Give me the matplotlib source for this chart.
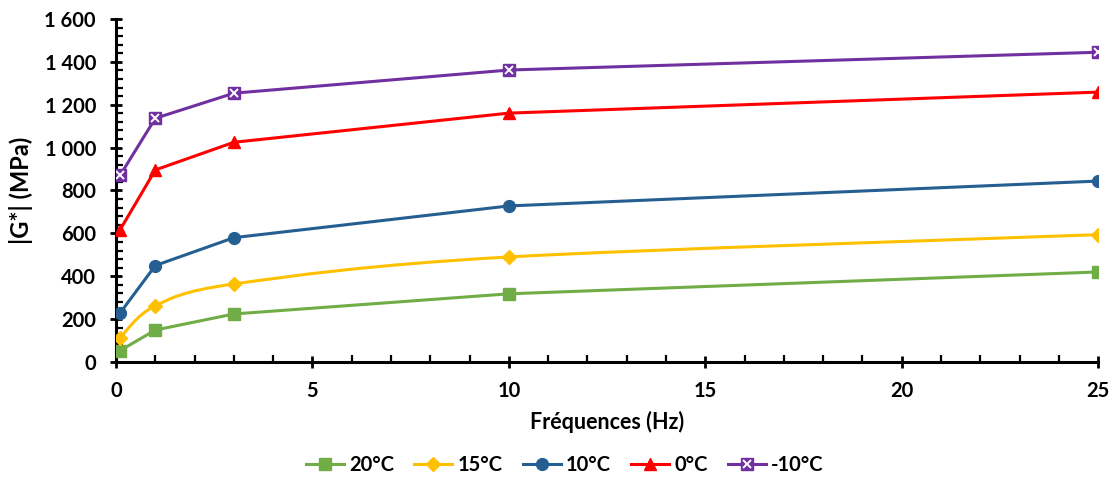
import numpy as np
import matplotlib.pyplot as plt
from matplotlib.path import Path
from matplotlib.patches import PathPatch
from matplotlib.lines import Line2D
from matplotlib.ticker import MultipleLocator, FuncFormatter

plt.rcParams['font.family'] = ['Lato', 'DejaVu Sans']

freqs = [0.1, 1, 3, 10, 25]
g_20 = [53, 149, 224, 318, 420]
g_15 = [113, 262, 364, 490, 594]
g_10 = [228, 450, 580, 728, 844]
g_0 = [616, 896, 1025, 1161, 1259]
g_m10 = [870, 1137, 1254, 1362, 1445]

labels = ["20°C", "15°C", "10°C", "0°C", "-10°C"]
series = [g_20, g_15, g_10, g_0, g_m10]
colors = ["#70AD47", "#FFC000", "#255E91", "#FF0000", "#7030A0"]
markers = ["s", "D", "o", "^", "s"]
msizes = [8.5, 7, 8.5, 8.5, 8.5]
smoothed = [False, True, False, False, False]


def smooth_path(x, y):
    # smoothed line: cubic Bezier through each point
    pts = np.column_stack([x, y]).astype(float)
    verts = [pts[0]]
    codes = [Path.MOVETO]
    n = len(pts)
    for i in range(n - 1):
        p0 = pts[i - 1] if i > 0 else pts[i]
        p1 = pts[i]
        p2 = pts[i + 1]
        p3 = pts[i + 2] if i + 2 < n else pts[i + 1]
        seg = np.hypot(*(p2 - p1))
        t1 = (p2 - p0) / 6
        t2 = (p3 - p1) / 6
        # keep handles shorter than a third of the segment
        t1 *= min(1, seg / 3 / max(np.hypot(*t1), 1e-9))
        t2 *= min(1, seg / 3 / max(np.hypot(*t2), 1e-9))
        verts += [p1 + t1, p2 - t2, p2]
        codes += [Path.CURVE4] * 3
    return Path(verts, codes)


fig = plt.figure(figsize=(11.16, 4.79), dpi=100)
ax = fig.add_axes([0.104, 0.2443, 0.880, 0.716])

handles = []
for vals, lab, col, mk, ms, sm in zip(series, labels, colors, markers, msizes, smoothed):
    if sm:
        ax.add_patch(PathPatch(smooth_path(freqs, vals), fill=False, edgecolor=col,
                               lw=2.2, zorder=2))
    else:
        ax.plot(freqs, vals, color=col, lw=2.2, zorder=2)
    if lab == "-10°C":
        ax.plot(freqs, vals, ls="none", marker="s", ms=ms, mfc=col, mec=col, zorder=3)
        ax.plot(freqs, vals, ls="none", marker="x", ms=ms - 2.5, mec="white",
                mew=1.4, zorder=4)
        h = (Line2D([], [], color=col, lw=2.2, marker="s", ms=ms, mfc=col, mec=col),
             Line2D([], [], ls="none", marker="x", ms=ms - 2.5, mec="white", mew=1.4))
    else:
        ax.plot(freqs, vals, ls="none", marker=mk, ms=ms, mfc=col, mec=col, zorder=3)
        h = Line2D([], [], color=col, lw=2.2, marker=mk, ms=ms, mfc=col, mec=col)
    handles.append(h)

ax.set_xlim(0, 25)
ax.set_ylim(0, 1600)
ax.xaxis.set_major_locator(MultipleLocator(5))
ax.xaxis.set_minor_locator(MultipleLocator(1))
ax.yaxis.set_major_locator(MultipleLocator(200))
ax.yaxis.set_minor_locator(MultipleLocator(40))
ax.yaxis.set_major_formatter(FuncFormatter(lambda v, p: f"{int(v):,}".replace(",", " ")))

for s in ["top", "right"]:
    ax.spines[s].set_visible(False)
for s in ["left", "bottom"]:
    ax.spines[s].set_linewidth(2.2)
ax.tick_params(which="major", direction="inout", length=9, width=2, labelsize=14.5)
ax.tick_params(axis="x", which="major", pad=9)
ax.tick_params(axis="y", which="major", pad=10)
ax.tick_params(which="minor", direction="in", length=5, width=1.6)
for t in ax.get_xticklabels() + ax.get_yticklabels():
    t.set_fontweight("bold")

ax.set_xlabel("Fréquences (Hz)", fontsize=15.5, fontweight="bold", labelpad=7)
ax.set_ylabel("|G*| (MPa)", fontsize=17, fontweight="bold", labelpad=8)

fig.legend(handles, labels, loc="center", bbox_to_anchor=(0.506, 0.03),
           ncol=5, frameon=False, prop={"weight": "bold", "size": 14.5},
           handlelength=1.9, columnspacing=1.0, handletextpad=0.25)

fig.savefig("out.png", dpi=100)
